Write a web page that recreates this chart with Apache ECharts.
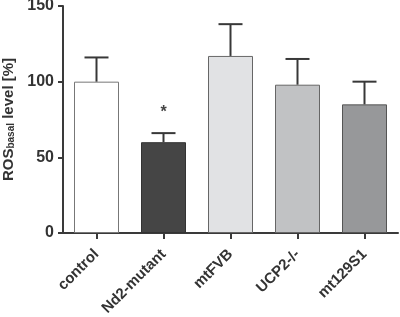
<!DOCTYPE html>
<html>
<head>
<meta charset="utf-8">
<script src="https://cdn.jsdelivr.net/npm/echarts@6/dist/echarts.min.js"></script>
<style>html,body{margin:0;padding:0;background:#fff;}#c{width:400px;height:317px;}</style>
</head>
<body>
<div id="c"></div>
<script>
const categories = ['control', 'Nd2-mutant', 'mtFVB', 'UCP2-/-', 'mt129S1'];
const means = [100, 60, 117, 98, 85];
const errors = [16, 6, 21, 17, 15];
const significance = ['', '*', '', '', ''];
const barColors = ['#ffffff', '#454545', '#e1e2e4', '#c1c2c4', '#97989a'];
const borderColors = ['#777777', '#333333', '#666666', '#666666', '#555555'];
const yTicks = { min: 0, max: 150, interval: 50 };

const chart = echarts.init(document.getElementById('c'), null, { renderer: 'canvas' });
const axisColor = '#3a3a3a';
const font = '"Liberation Sans", Arial, sans-serif';

chart.setOption({
  animation: false,
  backgroundColor: '#ffffff',
  grid: { left: 63, right: 2, top: 6, bottom: 84, containLabel: false, outerBoundsMode: 'none' },
  xAxis: {
    type: 'category',
    data: categories,
    axisLine: { show: true, lineStyle: { color: axisColor, width: 2 } },
    axisTick: { show: true, alignWithLabel: true, length: 6, lineStyle: { color: axisColor, width: 2 } },
    axisLabel: { rotate: 45, margin: 19, color: '#333', fontSize: 15, fontWeight: 'bold', fontFamily: font },
    splitLine: { show: false }
  },
  yAxis: {
    type: 'value',
    min: yTicks.min, max: yTicks.max, interval: yTicks.interval,
    axisLine: { show: true, lineStyle: { color: axisColor, width: 2 } },
    axisTick: { show: true, length: 5, lineStyle: { color: axisColor, width: 2 } },
    axisLabel: { margin: 9, color: '#333', fontSize: 16, fontWeight: 'bold', fontFamily: font },
    splitLine: { show: false },
    name: '{a|ROS}{s|basal}{a| level [%]}',
    nameLocation: 'middle',
    nameGap: 46,
    nameRotate: 90,
    nameTextStyle: {
      rich: {
        a: { fontSize: 15, fontWeight: 'bold', color: '#333', fontFamily: font, lineHeight: 18, verticalAlign: 'bottom' },
        s: { fontSize: 10, fontWeight: 'bold', color: '#333', fontFamily: font, lineHeight: 18, verticalAlign: 'bottom', padding: [6, 0, 0, 0] }
      }
    }
  },
  series: [
    {
      type: 'bar',
      barWidth: 45,
      data: means.map((v, i) => ({
        value: v,
        itemStyle: { color: barColors[i], borderColor: borderColors[i], borderWidth: 1 }
      })),
      z: 2
    },
    {
      type: 'custom',
      z: 3,
      data: means.map((v, i) => [i, v, v + errors[i]]),
      renderItem: function (params, api) {
        const x = api.value(0);
        const base = api.coord([x, api.value(1)]);
        const top = api.coord([x, api.value(2)]);
        const half = 12;
        const children = [
          { type: 'line', shape: { x1: base[0], y1: base[1], x2: top[0], y2: top[1] }, style: { stroke: '#383838', lineWidth: 2 } },
          { type: 'line', shape: { x1: top[0] - half, y1: top[1], x2: top[0] + half, y2: top[1] }, style: { stroke: '#383838', lineWidth: 2 } }
        ];
        const star = significance[params.dataIndex];
        if (star) {
          children.push({
            type: 'text',
            style: { x: top[0], y: top[1] - 21, text: star, fill: '#444', font: 'bold 16px ' + font, textAlign: 'center', textVerticalAlign: 'middle' }
          });
        }
        return { type: 'group', children: children };
      }
    }
  ]
});
</script>
</body>
</html>
